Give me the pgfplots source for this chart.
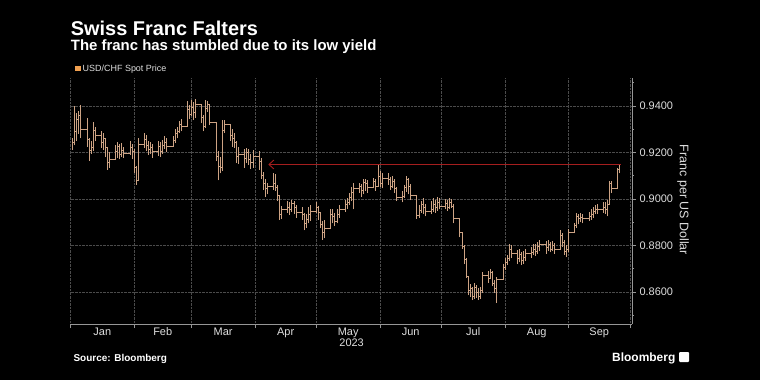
\documentclass[border=0pt]{standalone}
\usepackage{pgfplots}
\pgfplotsset{compat=1.18}
\usepackage{pgfplotstable}
\usepackage{fontspec}
\setmainfont{Liberation Sans}
\usetikzlibrary{arrows.meta}
\definecolor{barc}{RGB}{205,163,132}
\definecolor{legc}{RGB}{240,160,80}
\definecolor{redl}{RGB}{165,30,30}
\definecolor{gridc}{RGB}{75,75,75}
\definecolor{axc}{RGB}{150,150,150}
\definecolor{txt}{RGB}{222,222,222}

\pgfplotstableread{
d h l c
1 0.926 0.921 0.9245
2 0.940 0.923 0.929
3 0.937 0.925 0.934
4 0.938 0.928 0.936
5 0.9405 0.926 0.930
8 0.935 0.9225 0.9255
9 0.926 0.9165 0.921
10 0.925 0.9195 0.922
11 0.933 0.9205 0.9295
12 0.931 0.925 0.9275
15 0.929 0.922 0.9245
16 0.9285 0.921 0.926
17 0.925 0.918 0.922
18 0.921 0.9125 0.9155
19 0.920 0.9135 0.917
22 0.923 0.917 0.9205
23 0.9245 0.9175 0.9225
24 0.9235 0.917 0.919
25 0.924 0.918 0.921
26 0.9225 0.9175 0.9195
29 0.925 0.919 0.922
30 0.9235 0.917 0.9205
31 0.9215 0.911 0.9135
32 0.914 0.906 0.908
33 0.926 0.9075 0.9235
36 0.9285 0.922 0.9255
37 0.9275 0.9205 0.923
38 0.925 0.919 0.9215
39 0.9245 0.9195 0.922
40 0.9235 0.9175 0.9205
43 0.925 0.9185 0.9225
44 0.9245 0.918 0.9205
45 0.9255 0.9195 0.923
46 0.927 0.9215 0.9245
47 0.926 0.920 0.9225
50 0.927 0.9225 0.925
51 0.930 0.924 0.928
52 0.931 0.926 0.929
53 0.9335 0.9285 0.932
54 0.9345 0.929 0.931
57 0.942 0.931 0.9385
58 0.9405 0.9345 0.9365
59 0.9425 0.9355 0.9395
60 0.9415 0.934 0.937
61 0.943 0.935 0.9405
64 0.941 0.9325 0.935
65 0.936 0.929 0.931
66 0.9425 0.9305 0.939
67 0.942 0.9375 0.9405
68 0.941 0.932 0.933
71 0.933 0.9165 0.9185
72 0.9205 0.908 0.914
73 0.918 0.911 0.9135
74 0.934 0.912 0.9295
75 0.934 0.9285 0.932
78 0.9315 0.925 0.9275
79 0.930 0.9225 0.926
80 0.9285 0.922 0.9245
81 0.925 0.9155 0.9185
82 0.9225 0.915 0.919
85 0.9215 0.9135 0.9175
86 0.922 0.9155 0.920
87 0.9215 0.9145 0.917
88 0.9195 0.913 0.9155
89 0.921 0.9135 0.9185
92 0.9205 0.9125 0.916
93 0.9175 0.9085 0.910
94 0.9115 0.904 0.9065
95 0.9085 0.901 0.9045
96 0.907 0.902 0.9055
99 0.911 0.904 0.9065
100 0.9105 0.9035 0.905
101 0.906 0.899 0.9015
102 0.901 0.891 0.8935
103 0.897 0.8915 0.8955
106 0.899 0.894 0.8965
107 0.8985 0.893 0.8955
108 0.8995 0.8945 0.898
109 0.899 0.8935 0.8965
110 0.8975 0.892 0.894
113 0.8965 0.891 0.8935
114 0.894 0.8865 0.8895
115 0.8935 0.8875 0.891
116 0.8965 0.8895 0.8935
117 0.8975 0.8905 0.8945
120 0.8985 0.894 0.8965
121 0.897 0.891 0.894
122 0.8945 0.8875 0.889
123 0.8905 0.8825 0.8855
124 0.891 0.883 0.8875
127 0.8955 0.888 0.8935
128 0.8955 0.8895 0.8925
129 0.894 0.8885 0.8905
130 0.8955 0.8895 0.8935
131 0.8975 0.892 0.8955
134 0.8995 0.8945 0.8975
135 0.9005 0.8955 0.8985
136 0.9025 0.8975 0.9005
137 0.905 0.899 0.903
138 0.907 0.8955 0.9045
141 0.907 0.9025 0.9055
142 0.9065 0.901 0.9035
143 0.9085 0.902 0.907
144 0.9085 0.9035 0.9065
145 0.908 0.9025 0.905
148 0.909 0.9045 0.9075
149 0.9085 0.9035 0.9055
150 0.9146 0.906 0.9095
151 0.912 0.905 0.9065
152 0.911 0.9045 0.909
155 0.911 0.906 0.9085
156 0.9095 0.904 0.9055
157 0.910 0.9045 0.9075
158 0.9085 0.9025 0.9045
159 0.905 0.899 0.9005
162 0.9035 0.8985 0.901
163 0.906 0.9005 0.905
164 0.910 0.903 0.9085
165 0.909 0.902 0.9055
166 0.9065 0.8995 0.9015
169 0.9005 0.8915 0.893
170 0.8975 0.892 0.895
171 0.899 0.894 0.8975
172 0.9005 0.8935 0.8965
173 0.898 0.8925 0.8945
176 0.899 0.8935 0.8955
177 0.9005 0.8945 0.8975
178 0.8995 0.894 0.8965
179 0.901 0.895 0.8985
180 0.9005 0.8955 0.897
183 0.900 0.8955 0.898
184 0.8995 0.895 0.8965
185 0.9005 0.8955 0.8985
186 0.900 0.896 0.897
187 0.898 0.8895 0.8915
190 0.891 0.8835 0.8855
191 0.8855 0.8785 0.8795
192 0.880 0.872 0.874
193 0.8745 0.866 0.8665
194 0.867 0.8585 0.8605
195 0.8635 0.858 0.8615
196 0.862 0.8565 0.858
197 0.864 0.857 0.862
198 0.863 0.8575 0.860
199 0.8615 0.8565 0.858
200 0.862 0.857 0.8605
201 0.8685 0.8595 0.867
204 0.869 0.864 0.866
205 0.870 0.8655 0.8685
206 0.869 0.8625 0.8635
207 0.865 0.8595 0.8615
208 0.8665 0.8553 0.8655
211 0.872 0.8655 0.8705
212 0.8745 0.8695 0.8725
213 0.876 0.8715 0.8745
214 0.8805 0.8735 0.8785
215 0.880 0.8745 0.8765
218 0.878 0.872 0.8745
219 0.8785 0.873 0.876
220 0.877 0.8715 0.8735
221 0.8775 0.872 0.875
222 0.8785 0.8735 0.8765
225 0.8795 0.8745 0.877
226 0.8805 0.876 0.8785
227 0.8805 0.8755 0.8775
228 0.8815 0.8765 0.8795
229 0.8825 0.8775 0.8805
232 0.882 0.8765 0.879
233 0.8825 0.8775 0.8805
234 0.8815 0.877 0.8785
235 0.882 0.8775 0.880
236 0.881 0.8765 0.8785
239 0.8865 0.8815 0.8845
240 0.8855 0.8795 0.8815
241 0.8825 0.876 0.8775
242 0.880 0.875 0.8785
243 0.887 0.877 0.8855
246 0.8895 0.8855 0.8885
247 0.894 0.8875 0.8925
248 0.8935 0.889 0.8915
249 0.894 0.890 0.892
250 0.8935 0.8895 0.8915
253 0.8945 0.8905 0.8925
254 0.8955 0.891 0.8935
255 0.8965 0.892 0.8945
256 0.8975 0.8935 0.8955
257 0.898 0.8935 0.8955
260 0.8985 0.894 0.8965
261 0.8985 0.8935 0.8955
262 0.8995 0.8925 0.8975
263 0.9075 0.8975 0.9065
264 0.9075 0.9025 0.9045
267 0.9135 0.9065 0.9125
268 0.915 0.911 0.9145
}\ohlc

\begin{document}
\begin{tikzpicture}[x=1bp,y=1bp]
\fill[black] (0,0) rectangle (760,380);
\path[use as bounding box] (0,0) rectangle (760,380);
\begin{axis}[
  at={(70.5bp,56bp)}, anchor=south west,
  scale only axis, width=561.5bp, height=246bp,
  xmin=0, xmax=274, ymin=0.8462, ymax=0.9520,
  axis x line=bottom, axis y line=right,
  every outer x axis line/.append style={-},
  every outer y axis line/.append style={-},
  axis line style={axc, line width=0.8bp},
  xtick={0,31,59,90,120,151,181,212,243,273},
  xticklabels={},
  extra x ticks={15.5,45,74.5,105,135.5,166,196.5,227.5,258},
  extra x tick labels={Jan,Feb,Mar,Apr,May,Jun,Jul,Aug,Sep},
  extra x tick style={major tick length=0pt, grid=none},
  ytick={0.86,0.88,0.90,0.92,0.94},
  minor ytick={0.85,0.87,0.89,0.91,0.93,0.95},
  /pgf/number format/assume math mode=true,
  yticklabel style={/pgf/number format/fixed, /pgf/number format/fixed zerofill, /pgf/number format/precision=4},
  tick label style={font=\fontsize{11}{13}\selectfont, text=txt},
  tick style={axc, line width=0.6bp},
  major tick length=4bp, minor tick length=2bp,
  tick align=outside,
  xmajorgrids, ymajorgrids,
  major grid style={gridc, densely dotted, line width=0.4bp},
]
\addplot[barc, line width=0.75bp, mark=none, -, forget plot,
  quiver={u=0, v=\thisrow{h}-\thisrow{l}}]
  table[x=d, y=l] {\ohlc};
\addplot[const plot, barc, line width=0.75bp, mark=none] table[x=d, y=c] {\ohlc};
\addplot[redl, line width=0.9bp, {Straight Barb[length=5bp,width=9bp]}-] coordinates {(96.5,0.9148) (268.5,0.9148)};
\end{axis}
\node[anchor=base west, text=white, font=\fontsize{20}{24}\selectfont\bfseries, inner sep=0] at (70.7,344.3) {Swiss Franc Falters};
\node[anchor=base west, text=white, font=\fontsize{15}{18}\selectfont\bfseries, inner sep=0] at (70.7,329.3) {The franc has stumbled due to its low yield};
\fill[legc] (75,309) rectangle (80.5,314.5);
\node[anchor=base west, text=txt, font=\fontsize{9}{11}\selectfont, inner sep=0] at (82.5,308.3) {USD/CHF Spot Price};
\node[rotate=-90, text=txt, font=\fontsize{12.5}{15}\selectfont] at (683,180) {Franc per US Dollar};
\node[text=txt, font=\fontsize{11}{13}\selectfont] at (351.6,37) {2023};
\node[anchor=base west, text=white, font=\fontsize{10}{12}\selectfont\bfseries, inner sep=0] at (73.4,19) {Source: Bloomberg};
\node[anchor=base west, text=white, font=\fontsize{12}{14}\selectfont\bfseries, inner sep=0] at (612,19) {Bloomberg};
\fill[white, rounded corners=1bp] (679,18) rectangle (689,28);
\end{tikzpicture}
\end{document}
